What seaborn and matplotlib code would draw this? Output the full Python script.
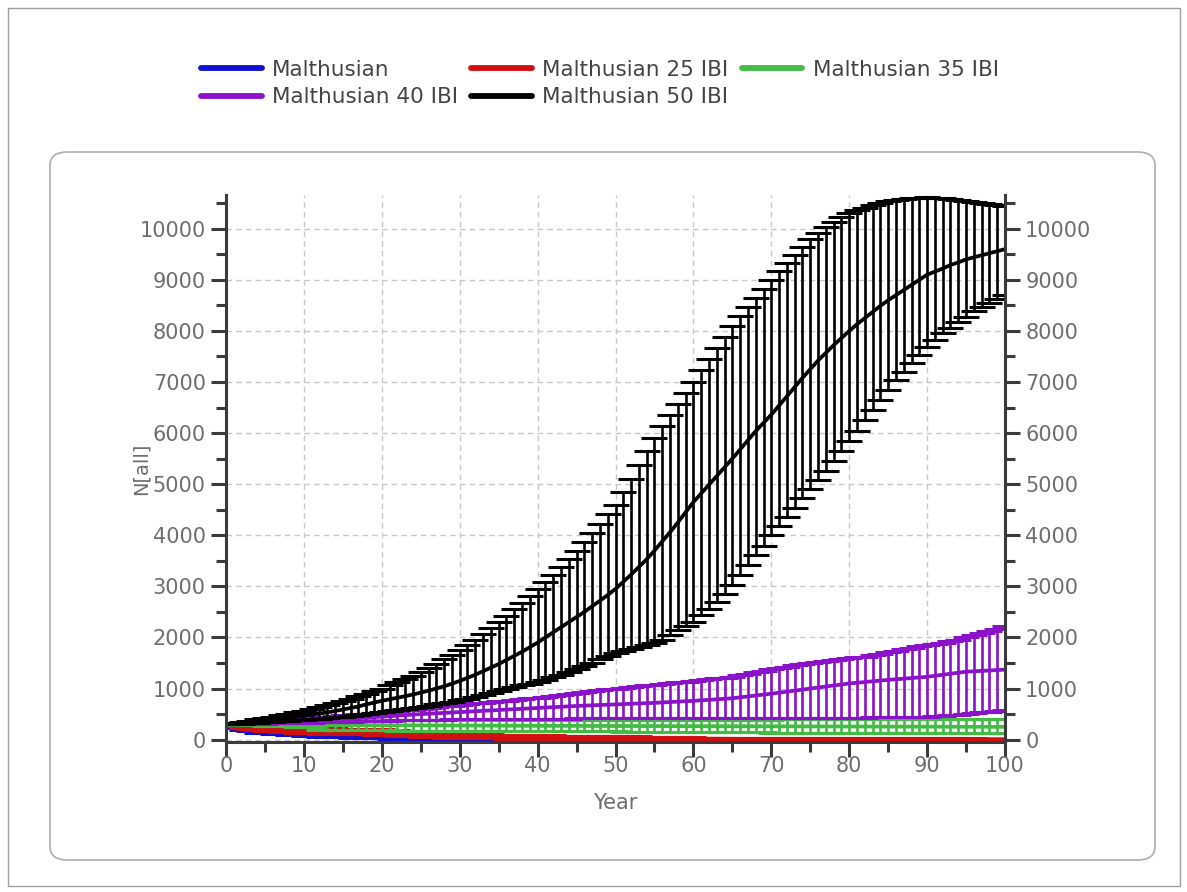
import numpy as np
import pandas as pd
import matplotlib
matplotlib.use("Agg")
import matplotlib.pyplot as plt
from matplotlib.lines import Line2D
from matplotlib.patches import FancyBboxPatch, Rectangle
from matplotlib.ticker import MultipleLocator
import seaborn as sns

years = list(range(101))

series_names = ["Malthusian", "Malthusian 25 IBI", "Malthusian 35 IBI",
                "Malthusian 40 IBI", "Malthusian 50 IBI"]
series_colors = ["#1010d0", "#d01010", "#44bb44", "#8a12c8", "#000000"]

# Malthusian 50 IBI
black_mean = [300, 315, 330, 345, 360, 380, 395, 410, 430, 450, 470,
              490, 510, 535, 560, 590, 620, 650, 690, 725, 760,
              790, 820, 850, 885, 920, 960, 1000, 1045, 1095, 1150,
              1210, 1270, 1340, 1410, 1480, 1560, 1640, 1720, 1810, 1900,
              2000, 2100, 2200, 2300, 2400, 2500, 2610, 2720, 2830, 2950,
              3090, 3230, 3380, 3530, 3700, 3880, 4060, 4250, 4450, 4650,
              4820, 4990, 5160, 5330, 5500, 5680, 5860, 6040, 6200, 6360,
              6540, 6720, 6900, 7080, 7250, 7420, 7570, 7720, 7860, 8000,
              8130, 8250, 8370, 8490, 8600, 8700, 8800, 8900, 9000, 9100,
              9160, 9220, 9290, 9340, 9400, 9440, 9480, 9520, 9560, 9600]
black_hi = [300, 320, 345, 370, 395, 420, 450, 480, 510, 540, 570,
            605, 640, 680, 720, 760, 805, 850, 900, 950, 1000,
            1060, 1120, 1180, 1250, 1320, 1400, 1480, 1570, 1660, 1760,
            1860, 1960, 2070, 2180, 2300, 2420, 2550, 2680, 2810, 2950,
            3090, 3230, 3380, 3540, 3700, 3870, 4040, 4220, 4410, 4600,
            4850, 5100, 5370, 5640, 5900, 6130, 6350, 6570, 6790, 7000,
            7230, 7450, 7670, 7890, 8100, 8290, 8470, 8650, 8830, 9000,
            9170, 9330, 9490, 9650, 9800, 9920, 10030, 10130, 10220, 10300,
            10360, 10410, 10460, 10510, 10550, 10570, 10590, 10600, 10610, 10620,
            10610, 10600, 10590, 10570, 10550, 10530, 10510, 10490, 10470, 10450]
black_lo = [300, 305, 315, 320, 330, 340, 350, 360, 370, 380, 390,
            400, 410, 425, 435, 450, 465, 480, 500, 520, 540,
            560, 580, 600, 620, 640, 665, 690, 715, 740, 770,
            800, 840, 880, 920, 960, 990, 1030, 1060, 1090, 1120,
            1170, 1220, 1270, 1320, 1380, 1440, 1510, 1580, 1640, 1700,
            1740, 1780, 1820, 1860, 1900, 1960, 2050, 2140, 2220, 2300,
            2430, 2560, 2700, 2850, 3030, 3220, 3410, 3610, 3800, 4000,
            4180, 4360, 4540, 4720, 4900, 5080, 5250, 5450, 5650, 5850,
            6050, 6250, 6450, 6650, 6850, 7030, 7200, 7370, 7530, 7680,
            7820, 7950, 8060, 8170, 8280, 8380, 8470, 8550, 8630, 8700]

# Malthusian 40 IBI
purple_mean = [300, 306, 312, 318, 324, 330, 338, 346, 354, 362, 370,
               378, 386, 394, 402, 410, 418, 426, 434, 442, 450,
               460, 470, 480, 490, 500, 508, 516, 524, 532, 540,
               548, 556, 564, 572, 580, 588, 596, 604, 612, 620,
               628, 636, 644, 652, 660, 666, 672, 678, 684, 690,
               696, 702, 708, 714, 720, 728, 736, 744, 752, 760,
               770, 780, 790, 800, 810, 828, 846, 864, 882, 900,
               920, 940, 960, 980, 1000, 1020, 1040, 1060, 1080, 1100,
               1114, 1128, 1142, 1156, 1170, 1182, 1194, 1206, 1218, 1230,
               1250, 1270, 1290, 1310, 1330, 1338, 1346, 1354, 1362, 1370]
purple_hi = [300, 312, 324, 336, 348, 360, 372, 384, 396, 408, 420,
             431, 442, 453, 464, 475, 486, 497, 508, 519, 530,
             545, 560, 575, 590, 605, 620, 635, 650, 665, 680,
             694, 708, 722, 736, 750, 764, 778, 792, 806, 820,
             838, 856, 874, 892, 910, 928, 946, 964, 982, 1000,
             1015, 1030, 1045, 1060, 1075, 1090, 1105, 1120, 1135, 1150,
             1166, 1182, 1198, 1214, 1230, 1260, 1290, 1320, 1350, 1380,
             1404, 1428, 1452, 1476, 1500, 1520, 1540, 1560, 1580, 1600,
             1612, 1624, 1650, 1680, 1710, 1740, 1770, 1800, 1830, 1860,
             1880, 1900, 1930, 1960, 2000, 2040, 2080, 2120, 2170, 2220]
purple_lo = [300, 303, 306, 309, 312, 315, 318, 321, 324, 327, 330,
             334, 338, 342, 346, 350, 354, 358, 362, 366, 370,
             373, 376, 379, 382, 385, 388, 391, 394, 397, 400,
             401, 402, 403, 404, 405, 406, 407, 408, 409, 410,
             411, 412, 413, 414, 415, 416, 417, 418, 419, 420,
             420, 420, 420, 420, 420, 420, 420, 420, 420, 420,
             420, 420, 420, 420, 420, 420, 420, 420, 420, 420,
             420, 420, 420, 420, 420, 421, 422, 423, 424, 425,
             428, 431, 434, 437, 440, 442, 444, 446, 448, 450,
             460, 470, 480, 490, 500, 516, 532, 548, 564, 580]

# Malthusian 35 IBI
green_mean = [300, 298, 296, 295, 293, 292, 290, 289, 288, 287, 286,
              285, 284, 284, 283, 283, 282, 282, 281, 281, 280,
              280, 280, 279, 279, 278, 278, 277, 277, 276, 276,
              275, 275, 274, 274, 273, 273, 272, 272, 271, 271,
              270, 270, 270, 269, 269, 269, 268, 268, 268, 267,
              267, 267, 266, 266, 266, 265, 265, 265, 264, 264,
              264, 263, 263, 263, 262, 262, 262, 261, 261, 261,
              260, 260, 260, 259, 259, 259, 258, 258, 258, 257,
              257, 257, 256, 256, 256, 255, 255, 255, 254, 254,
              254, 253, 253, 253, 252, 252, 252, 251, 251, 250]
green_hi = [300, 305, 310, 315, 320, 325, 330, 335, 340, 345, 350,
            355, 380, 382, 384, 385, 386, 387, 388, 389, 390,
            390, 390, 390, 390, 390, 390, 390, 390, 390, 390,
            390, 390, 390, 390, 390, 390, 390, 390, 390, 390,
            390, 390, 390, 390, 390, 390, 390, 390, 390, 390,
            391, 391, 391, 391, 391, 392, 392, 392, 392, 392,
            393, 393, 393, 393, 393, 394, 394, 394, 394, 394,
            395, 395, 395, 395, 395, 396, 396, 396, 396, 396,
            397, 397, 397, 397, 397, 398, 398, 398, 398, 398,
            399, 399, 399, 399, 399, 400, 400, 400, 400, 400]
green_lo = [300, 295, 290, 285, 280, 275, 270, 265, 260, 255, 250,
            245, 190, 188, 186, 185, 184, 183, 182, 181, 180,
            180, 179, 179, 178, 178, 177, 177, 176, 176, 175,
            175, 174, 174, 173, 173, 172, 172, 171, 171, 170,
            169, 168, 167, 166, 165, 164, 163, 162, 161, 160,
            159, 158, 157, 156, 155, 154, 153, 152, 151, 150,
            149, 148, 147, 146, 145, 144, 143, 142, 141, 140,
            140, 139, 139, 138, 138, 137, 137, 136, 136, 135,
            135, 134, 134, 133, 133, 132, 132, 131, 131, 130,
            130, 130, 130, 130, 130, 130, 130, 130, 130, 130]

# Malthusian 25 IBI
red_mean = [300, 280, 262, 248, 236, 225, 215, 206, 198, 191, 185,
            180, 175, 171, 167, 164, 161, 158, 155, 152, 150,
            140, 130, 120, 112, 105, 98, 92, 86, 80, 75,
            72, 69, 66, 63, 61, 59, 57, 55, 53, 52,
            50, 49, 48, 47, 46, 45, 44, 43, 42, 41,
            40, 38, 36, 34, 32, 30, 28, 26, 24, 22,
            20, 19, 18, 17, 16, 15, 15, 14, 14, 13,
            13, 12, 12, 12, 11, 11, 11, 10, 10, 10,
            10, 10, 9, 9, 9, 9, 9, 8, 8, 8,
            8, 8, 8, 7, 7, 7, 7, 7, 7, 7]
red_hi = [300, 300, 290, 285, 280, 272, 265, 258, 252, 246, 240,
          235, 230, 226, 222, 218, 215, 212, 209, 206, 203,
          192, 180, 170, 160, 152, 144, 137, 130, 124, 118,
          114, 110, 106, 102, 99, 96, 93, 90, 88, 86,
          84, 82, 80, 78, 77, 76, 75, 74, 73, 72,
          70, 67, 64, 61, 58, 55, 52, 49, 46, 44,
          42, 40, 38, 37, 36, 35, 34, 33, 32, 31,
          30, 30, 29, 29, 28, 28, 28, 27, 27, 27,
          26, 26, 26, 25, 25, 25, 25, 24, 24, 24,
          24, 24, 23, 23, 23, 23, 22, 22, 22, 22]
red_lo = [300, 260, 234, 211, 192, 178, 165, 154, 144, 136, 130,
          125, 120, 116, 112, 110, 107, 104, 101, 98, 97,
          88, 80, 70, 64, 58, 52, 47, 42, 36, 32,
          30, 28, 26, 24, 23, 22, 21, 20, 18, 18,
          16, 16, 16, 16, 15, 14, 13, 12, 11, 10,
          10, 9, 8, 7, 6, 5, 4, 3, 2, 0,
          0, 0, 0, 0, 0, 0, 0, 0, 0, 0,
          0, 0, 0, 0, 0, 0, 0, 0, 0, 0,
          0, 0, 0, 0, 0, 0, 0, 0, 0, 0,
          0, 0, 0, 0, 0, 0, 0, 0, 0, 0]

# Malthusian
blue_mean = [300, 250, 215, 190, 170, 155, 142, 130, 120, 110, 100,
             93, 86, 79, 72, 66, 61, 56, 51, 46, 42,
             39, 36, 33, 30, 27, 25, 23, 21, 19, 17,
             15, 13, 11, 9, 7, 5, 3, 0, 0, 0,
             0, 0, 0, 0, 0, 0, 0, 0, 0, 0,
             0, 0, 0, 0, 0, 0, 0, 0, 0, 0,
             0, 0, 0, 0, 0, 0, 0, 0, 0, 0,
             0, 0, 0, 0, 0, 0, 0, 0, 0, 0,
             0, 0, 0, 0, 0, 0, 0, 0, 0, 0,
             0, 0, 0, 0, 0, 0, 0, 0, 0, 0]
blue_hi = [300, 280, 245, 220, 200, 184, 170, 158, 147, 137, 127,
           119, 111, 103, 96, 89, 83, 77, 71, 65, 60,
           56, 52, 48, 44, 40, 37, 34, 31, 28, 25,
           22, 19, 16, 13, 10, 8, 5, 2, 0, 0,
           0, 0, 0, 0, 0, 0, 0, 0, 0, 0,
           0, 0, 0, 0, 0, 0, 0, 0, 0, 0,
           0, 0, 0, 0, 0, 0, 0, 0, 0, 0,
           0, 0, 0, 0, 0, 0, 0, 0, 0, 0,
           0, 0, 0, 0, 0, 0, 0, 0, 0, 0,
           0, 0, 0, 0, 0, 0, 0, 0, 0, 0]
blue_lo = [300, 220, 185, 160, 140, 126, 114, 102, 93, 83, 73,
           67, 61, 55, 48, 43, 39, 35, 31, 27, 24,
           22, 20, 18, 16, 14, 13, 12, 11, 10, 9,
           8, 7, 6, 5, 4, 2, 1, 0, 0, 0,
           0, 0, 0, 0, 0, 0, 0, 0, 0, 0,
           0, 0, 0, 0, 0, 0, 0, 0, 0, 0,
           0, 0, 0, 0, 0, 0, 0, 0, 0, 0,
           0, 0, 0, 0, 0, 0, 0, 0, 0, 0,
           0, 0, 0, 0, 0, 0, 0, 0, 0, 0,
           0, 0, 0, 0, 0, 0, 0, 0, 0, 0]

series_data = {
    "Malthusian": (blue_lo, blue_mean, blue_hi),
    "Malthusian 25 IBI": (red_lo, red_mean, red_hi),
    "Malthusian 35 IBI": (green_lo, green_mean, green_hi),
    "Malthusian 40 IBI": (purple_lo, purple_mean, purple_hi),
    "Malthusian 50 IBI": (black_lo, black_mean, black_hi),
}

# long form: three rows per year (low, mean, high); median + full range
frames = []
for name, (lo, mid, hi) in series_data.items():
    for vals in (lo, mid, hi):
        frames.append(pd.DataFrame({"Year": years, "N": vals, "series": name}))
df = pd.concat(frames, ignore_index=True)

sns.set_theme(style="white")
plt.rcParams["font.family"] = ["DejaVu Sans"]

fig = plt.figure(figsize=(11.87, 8.92), dpi=100)
W, H = 1187, 892

# window frame and rounded chart panel
fig.patches.append(Rectangle((8 / W, 1 - 886 / H), 1172 / W, 878 / H,
                             transform=fig.transFigure, fill=False,
                             edgecolor="#a0a0a0", lw=1.0))
fig.patches.append(FancyBboxPatch((50 / W, 1 - 860 / H), 1105 / W, 708 / H,
                                  boxstyle="round,pad=0,rounding_size=0.015",
                                  transform=fig.transFigure, fill=False,
                                  edgecolor="#b4b4b4", lw=1.3))

ax = fig.add_axes([226 / W, 1 - 741.7 / H, 779 / W, 546.7 / H])
ax.set_facecolor("white")

sns.lineplot(data=df, x="Year", y="N", hue="series", hue_order=series_names,
             palette=dict(zip(series_names, series_colors)),
             estimator="median", errorbar=("pi", 100), err_style="bars",
             err_kws=dict(capsize=9.5, elinewidth=1.9, capthick=2.2),
             linewidth=2.7, legend=False, ax=ax)

ax.set_xlim(0, 100)
ax.set_ylim(-40, 10660)
ax.xaxis.set_major_locator(MultipleLocator(10))
ax.xaxis.set_minor_locator(MultipleLocator(5))
ax.yaxis.set_major_locator(MultipleLocator(1000))
ax.yaxis.set_minor_locator(MultipleLocator(500))

ax.grid(True, which="major", color="#c8c8c8", linestyle=(0, (4, 3)), lw=1.0)
ax.set_axisbelow(True)

spine_c = "#3a3a3a"
for side in ["left", "right", "bottom"]:
    ax.spines[side].set_visible(True)
    ax.spines[side].set_color(spine_c)
    ax.spines[side].set_linewidth(2.2)
ax.spines["top"].set_visible(False)

ax.tick_params(axis="y", which="both", left=True, right=True,
               labelleft=True, labelright=True, direction="out",
               color=spine_c, labelcolor="#6e6e6e", labelsize=15, pad=4)
ax.tick_params(axis="x", which="both", bottom=True, direction="out",
               color=spine_c, labelcolor="#6e6e6e", labelsize=15, pad=0)
ax.tick_params(which="major", length=10.5, width=2.2)
ax.tick_params(which="minor", length=7, width=2.2)

ax.set_xlabel("Year", fontsize=15, color="#6e6e6e")
ax.set_ylabel("N[all]", fontsize=14, color="#6e6e6e")
ax.xaxis.set_label_coords(0.5, -0.094)
ax.yaxis.set_label_coords(-0.097, 0.5)

# legend: order arranged so rows read left to right
handles = {n: Line2D([], [], color=c, lw=4.2) for n, c in zip(series_names, series_colors)}
order = ["Malthusian", "Malthusian 40 IBI", "Malthusian 25 IBI",
         "Malthusian 50 IBI", "Malthusian 35 IBI"]
fig.legend([handles[n] for n in order], order, loc="center",
           bbox_to_anchor=(600 / W, 1 - 83.5 / H), ncol=3, frameon=False,
           fontsize=15.5, handlelength=2.8, handletextpad=0.5,
           columnspacing=0.6, labelspacing=0.35, labelcolor="#444444")

fig.savefig("out.png", dpi=100, facecolor="white")
